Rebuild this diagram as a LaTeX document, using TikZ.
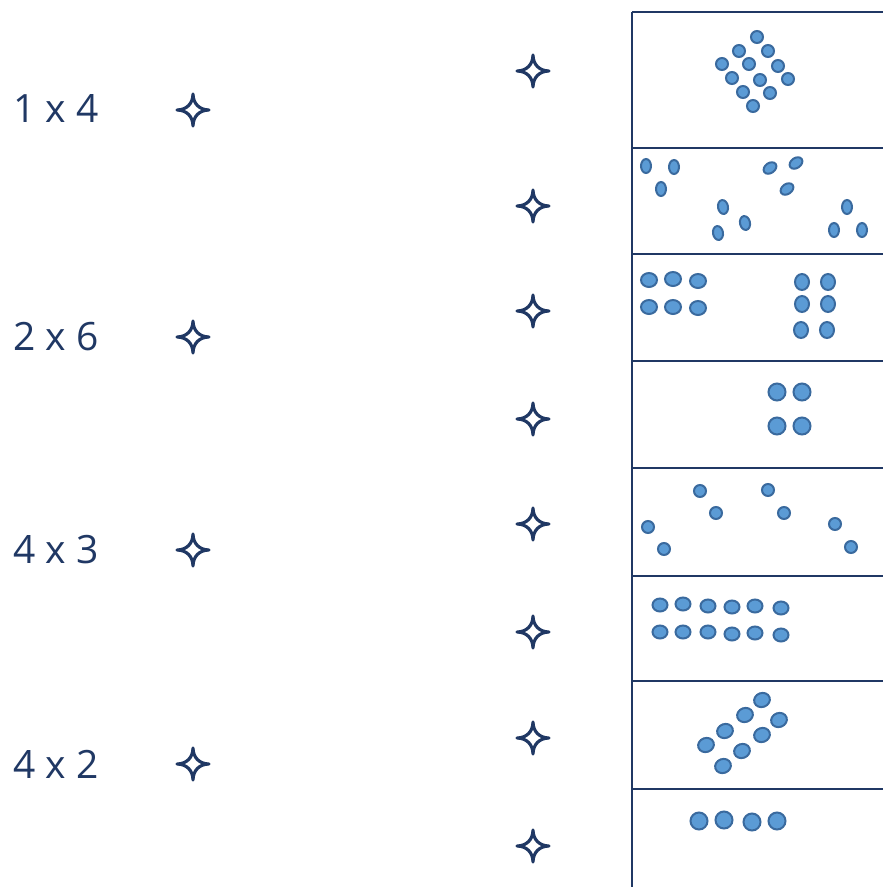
\documentclass[tikz,border=0pt]{standalone}
\usepackage{fontspec}
\setmainfont{Open Sans}
\definecolor{navy}{HTML}{203864}
\definecolor{dotfill}{HTML}{5B9BD5}
\definecolor{dotedge}{HTML}{3A6A9E}
\tikzset{
  frame/.style={draw=navy, line width=2.6pt},
  starline/.style={draw=navy, line width=3.2pt, line join=round},
  dot/.style={fill=dotfill, draw=dotedge, line width=2pt},
  lbl/.style={text=navy, font=\fontsize{39}{44}\selectfont, anchor=west, inner sep=0pt},
  fourstar/.pic={\draw[starline] (0,16) .. controls (0,6.5) and (6.5,0) .. (16,0) .. controls (6.5,0) and (0,-6.5) .. (0,-16) .. controls (0,-6.5) and (-6.5,0) .. (-16,0) .. controls (-6.5,0) and (0,6.5) .. cycle;}
}
\begin{document}
\begin{tikzpicture}[x=1pt,y=-1pt]
\useasboundingbox (0,0) rectangle (883,887);
% labels
\node[lbl] (l1) at (13,108) {1 x 4};
\node[lbl] (l2) at (13,337) {2 x 6};
\node[lbl] (l3) at (13,550) {4 x 3};
\node[lbl] (l4) at (13,764) {4 x 2};
% left stars
\foreach \y in {110,337,550,764} \pic at (193,\y) {fourstar};
% right stars
\foreach \y in {71,206,311,419,524,632,738,846} \pic at (533,\y) {fourstar};
% panel frame
\draw[frame] (632,887) -- (632,12);
\foreach \y in {12,148,254,361,468,576,681,789} \draw[frame] (632,\y) -- (883,\y);
% panel 1
\foreach \p in {(757,37),(739,51),(768,51),(722,64),(749,64),(778,66),(732,78),(760,80),(788,79),(743,92),(770,93),(753,106)}
  \draw[dot] \p circle (6);
% panel 2
\foreach \p in {(646,166),(674,167),(661,189),(847,207),(834,230),(862,230)}
  \draw[dot] \p ellipse (5 and 7);
\foreach \p/\a in {(723,207)/10,(745,223)/12,(718,233)/10}
  \draw[dot, rotate around={\a:\p}] \p ellipse (5 and 7);
\foreach \p in {(770,168),(796,163),(787,189)}
  \draw[dot, rotate around={35:\p}] \p ellipse (7 and 5);
% panel 3
\foreach \p in {(649,280),(673,279),(698,281),(649,307),(673,307),(698,308)}
  \draw[dot] \p ellipse (8 and 7);
\foreach \p in {(802,282),(828,282),(802,304),(828,304),(801,330),(827,330)}
  \draw[dot] \p ellipse (7 and 8);
% panel 4
\foreach \p in {(777,392),(802,392),(777,426),(802,426)}
  \draw[dot] \p circle (8.5);
% panel 5
\foreach \p in {(648,527),(664,549),(700,491),(716,513),(768,490),(784,513),(835,524),(851,547)}
  \draw[dot] \p circle (6);
% panel 6
\foreach \p in {(660,605),(683,604),(708,606),(732,607),(755,606),(781,608),(660,632),(683,632),(708,632),(732,634),(755,633),(781,635)}
  \draw[dot] \p ellipse (7.5 and 6.5);
% panel 7
\foreach \p in {(762,700),(745,715),(725,731),(706,745),(779,720),(762,735),(742,751),(723,766)}
  \draw[dot, rotate around={20:\p}] \p ellipse (8 and 7);
% panel 8
\foreach \p in {(699,821),(724,820),(752,822),(777,821)}
  \draw[dot] \p circle (8.5);
\end{tikzpicture}
\end{document}
